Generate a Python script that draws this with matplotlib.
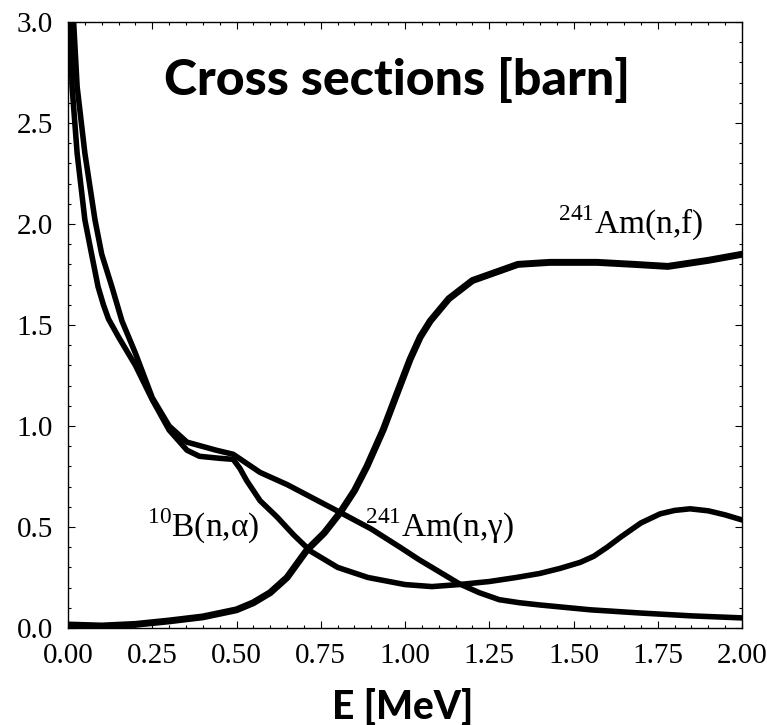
import matplotlib.pyplot as plt
import numpy as np

plt.rcParams['font.family'] = ['Liberation Serif', 'DejaVu Serif']
plt.rcParams['mathtext.fontset'] = 'custom'
plt.rcParams['mathtext.rm'] = 'Liberation Serif'

# 10B(n,alpha) - inner curve at the top, drops steeply after the bump, rises again above 1.2 MeV
e_b = [0.006, 0.012, 0.027, 0.05, 0.07, 0.089, 0.105, 0.12, 0.15, 0.175, 0.20, 0.25,
       0.30, 0.353, 0.39, 0.45, 0.49, 0.51, 0.53, 0.57, 0.62, 0.67, 0.72, 0.80,
       0.89, 1.00, 1.08, 1.16, 1.25, 1.33, 1.40, 1.46, 1.52, 1.56, 1.60, 1.64,
       1.70, 1.757, 1.80, 1.846, 1.90, 1.95, 2.00]
s_b = [3.05, 2.68, 2.35, 2.02, 1.85, 1.69, 1.60, 1.53, 1.44, 1.37, 1.30, 1.13,
       0.98, 0.88, 0.85, 0.84, 0.835, 0.79, 0.73, 0.63, 0.55, 0.46, 0.38, 0.30,
       0.25, 0.215, 0.205, 0.215, 0.23, 0.25, 0.27, 0.295, 0.325, 0.355, 0.40, 0.45,
       0.52, 0.565, 0.582, 0.59, 0.58, 0.56, 0.535]

# 241Am(n,gamma) - outer curve at the top, slow decrease
e_g = [0.015, 0.027, 0.05, 0.08, 0.10, 0.13, 0.16, 0.20, 0.25, 0.30, 0.353, 0.44,
       0.49, 0.57, 0.65, 0.73, 0.81, 0.90, 0.985, 1.04, 1.10, 1.16, 1.22, 1.28,
       1.34, 1.40, 1.55, 1.70, 1.85, 2.00]
s_g = [3.05, 2.68, 2.35, 2.02, 1.85, 1.69, 1.52, 1.36, 1.14, 1.0, 0.92, 0.88,
       0.86, 0.77, 0.71, 0.64, 0.57, 0.49, 0.40, 0.34, 0.28, 0.22, 0.175, 0.14,
       0.125, 0.114, 0.09, 0.074, 0.06, 0.05]

# 241Am(n,f) - threshold fission
e_f = [0.0, 0.1, 0.2, 0.3, 0.4, 0.5, 0.55, 0.6, 0.65, 0.709, 0.76, 0.807, 0.85,
       0.887, 0.935, 0.976, 1.015, 1.045, 1.075, 1.13, 1.2, 1.335, 1.43, 1.57,
       1.68, 1.78, 1.9, 2.0]
s_f = [0.015, 0.01, 0.018, 0.035, 0.055, 0.09, 0.125, 0.175, 0.25, 0.386, 0.47,
       0.57, 0.68, 0.80, 0.98, 1.16, 1.33, 1.44, 1.52, 1.63, 1.72, 1.80, 1.81,
       1.81, 1.80, 1.79, 1.82, 1.85]

fig = plt.figure(figsize=(7.67, 7.25), dpi=100)
ax = fig.add_axes([0.0887, 0.1338, 0.8787, 0.8359])

ax.plot(e_b, s_b, 'k-', lw=4, solid_capstyle='round', solid_joinstyle='round')
ax.plot(e_g, s_g, 'k-', lw=4, solid_capstyle='round', solid_joinstyle='round')
ax.plot(e_f, s_f, 'k-', lw=5, solid_capstyle='round', solid_joinstyle='round')

ax.set_xlim(0, 2)
ax.set_ylim(0, 3)
ax.set_xticks(np.arange(0, 2.01, 0.25))
ax.set_yticks(np.arange(0, 3.01, 0.5))
ax.set_xticks(np.arange(0, 2.01, 0.05), minor=True)
ax.set_yticks(np.arange(0, 3.01, 0.1), minor=True)
ax.xaxis.set_major_formatter(plt.FormatStrFormatter('%.2f'))
ax.yaxis.set_major_formatter(plt.FormatStrFormatter('%.1f'))
ax.tick_params(which='both', direction='in', top=True, right=True, labelsize=21,
               width=0.8)
ax.tick_params(which='major', length=5)
ax.tick_params(which='minor', length=2.5)
ax.tick_params(axis='x', pad=11)
ax.tick_params(axis='y', pad=11)
for sp in ax.spines.values():
    sp.set_linewidth(1.0)

ax.text(0.234, 0.45, r'$^{10}$B(n,α)', fontsize=24)
ax.text(0.88, 0.45, r'$^{241}$Am(n,γ)', fontsize=24)
ax.text(1.455, 1.95, r'$^{241}$Am(n,f)', fontsize=24)

fig.text(0.518, 0.869, 'Cross sections [barn]', fontsize=36, fontweight='black',
         family='Lato', ha='center', va='baseline')
fig.text(0.525, 0.008, 'E [MeV]', fontsize=28, fontweight='black',
         family='Lato', ha='center', va='baseline')

fig.savefig('out.png', dpi=100)
